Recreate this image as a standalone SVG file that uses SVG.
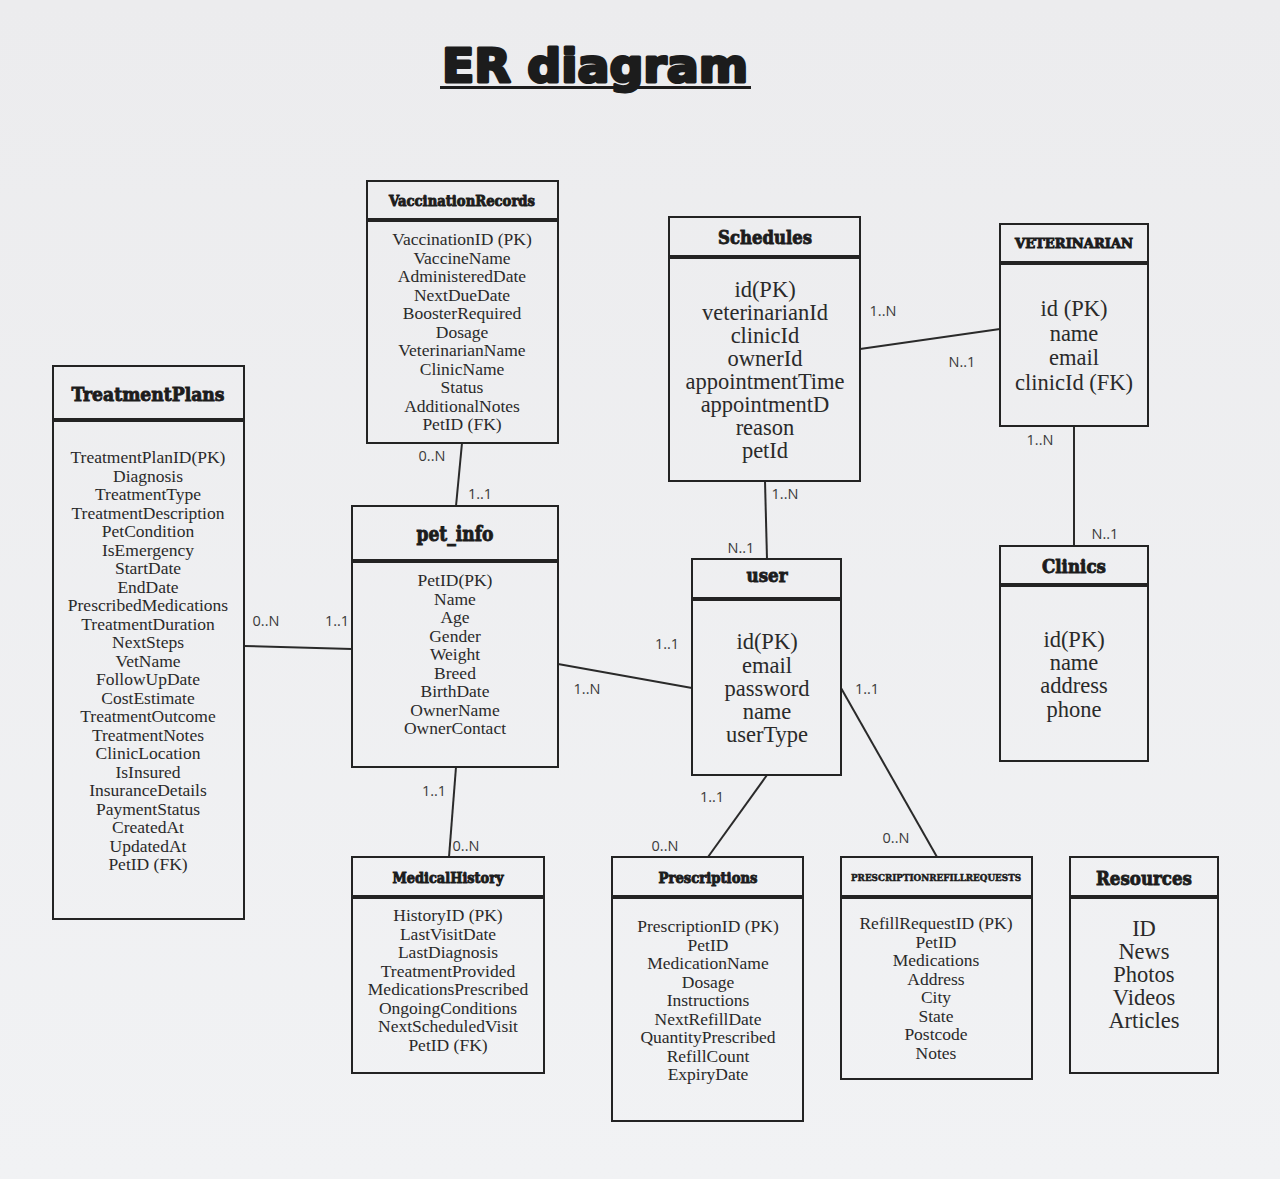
<svg xmlns="http://www.w3.org/2000/svg" width="1280" height="1179" viewBox="0 0 1280 1179">
<defs>
<style>
.box{fill:none;stroke:#232323;stroke-width:2}
.div{stroke:#232323;stroke-width:4}
.hd{font-family:"DejaVu Serif","Liberation Serif",serif;font-weight:bold;fill:#1c1c1c;text-anchor:middle;stroke:#1c1c1c;stroke-width:0.9}
.b{font-family:"Liberation Serif","Times New Roman",serif;font-size:17.5px;fill:#2a2a2a;text-anchor:middle}
.bl{font-family:"Liberation Serif","Times New Roman",serif;font-size:22.5px;fill:#2a2a2a;text-anchor:middle}
.lb{font-family:"Open Sans","DejaVu Sans",sans-serif;font-size:14.5px;fill:#3a3a3a;text-anchor:middle}
.ln{stroke:#2a2a2a;stroke-width:2;fill:none}
</style>
<linearGradient id="bg" x1="0" y1="0" x2="0" y2="1">
<stop offset="0" stop-color="#ececee"/>
<stop offset="1" stop-color="#f1f2f4"/>
</linearGradient>
</defs>
<rect x="0" y="0" width="1280" height="1179" fill="url(#bg)"/>

<g id="title">
<text x="595" y="82" font-family="'DejaVu Sans','Liberation Sans',sans-serif" font-weight="bold" font-size="47" fill="#1c1c1c" stroke="#1c1c1c" stroke-width="3" stroke-linejoin="round" text-anchor="middle" textLength="306" lengthAdjust="spacingAndGlyphs">ER diagram</text>
<line x1="440" y1="87.5" x2="751" y2="87.5" stroke="#1c1c1c" stroke-width="3"/>
</g>

<g id="connectors">
<line class="ln" x1="462" y1="443" x2="456" y2="506"/>
<line class="ln" x1="244" y1="646" x2="352" y2="649"/>
<line class="ln" x1="558" y1="664" x2="692" y2="688"/>
<line class="ln" x1="765" y1="481" x2="767" y2="559"/>
<line class="ln" x1="860" y1="349" x2="1000" y2="329"/>
<line class="ln" x1="1074" y1="426" x2="1074" y2="546"/>
<line class="ln" x1="456" y1="767" x2="449" y2="857"/>
<line class="ln" x1="767" y1="775" x2="708" y2="857"/>
<line class="ln" x1="841" y1="688" x2="937" y2="857"/>
<text class="lb" x="432" y="461">0..N</text>
<text class="lb" x="480" y="499">1..1</text>
<text class="lb" x="266" y="626">0..N</text>
<text class="lb" x="337" y="626">1..1</text>
<text class="lb" x="587" y="694">1..N</text>
<text class="lb" x="667" y="649">1..1</text>
<text class="lb" x="785" y="499">1..N</text>
<text class="lb" x="741" y="553">N..1</text>
<text class="lb" x="883" y="316">1..N</text>
<text class="lb" x="962" y="367">N..1</text>
<text class="lb" x="1040" y="445">1..N</text>
<text class="lb" x="1105" y="539">N..1</text>
<text class="lb" x="434" y="796">1..1</text>
<text class="lb" x="466" y="851">0..N</text>
<text class="lb" x="712" y="802">1..1</text>
<text class="lb" x="665" y="851">0..N</text>
<text class="lb" x="867" y="694">1..1</text>
<text class="lb" x="896" y="843">0..N</text>
</g>

<g id="VaccinationRecords">
<rect class="box" x="367" y="181" width="191" height="262"/>
<line class="div" x1="367" y1="220" x2="558" y2="220"/>
<text class="hd" x="462" y="206" font-size="14" textLength="146" lengthAdjust="spacingAndGlyphs">VaccinationRecords</text>
<text class="b" x="462" y="245">VaccinationID (PK)</text>
<text class="b" x="462" y="263.5">VaccineName</text>
<text class="b" x="462" y="282">AdministeredDate</text>
<text class="b" x="462" y="300.5">NextDueDate</text>
<text class="b" x="462" y="319">BoosterRequired</text>
<text class="b" x="462" y="337.5">Dosage</text>
<text class="b" x="462" y="356">VeterinarianName</text>
<text class="b" x="462" y="374.5">ClinicName</text>
<text class="b" x="462" y="393">Status</text>
<text class="b" x="462" y="411.5">AdditionalNotes</text>
<text class="b" x="462" y="430">PetID (FK)</text>
</g>

<g id="Schedules">
<rect class="box" x="669" y="217" width="191" height="264"/>
<line class="div" x1="669" y1="257" x2="860" y2="257"/>
<text class="hd" x="765" y="244" font-size="18" textLength="94" lengthAdjust="spacingAndGlyphs">Schedules</text>
<text class="bl" x="765" y="297">id(PK)</text>
<text class="bl" x="765" y="320">veterinarianId</text>
<text class="bl" x="765" y="343">clinicId</text>
<text class="bl" x="765" y="366">ownerId</text>
<text class="bl" x="765" y="389">appointmentTime</text>
<text class="bl" x="765" y="412">appointmentD</text>
<text class="bl" x="765" y="435">reason</text>
<text class="bl" x="765" y="458">petId</text>
</g>

<g id="VETERINARIAN">
<rect class="box" x="1000" y="224" width="148" height="202"/>
<line class="div" x1="1000" y1="263" x2="1148" y2="263"/>
<text class="hd" x="1074" y="248" font-size="13" textLength="118" lengthAdjust="spacingAndGlyphs">VETERINARIAN</text>
<text class="bl" x="1074" y="316">id (PK)</text>
<text class="bl" x="1074" y="340.5">name</text>
<text class="bl" x="1074" y="365">email</text>
<text class="bl" x="1074" y="389.5">clinicId (FK)</text>
</g>

<g id="TreatmentPlans">
<rect class="box" x="53" y="366" width="191" height="553"/>
<line class="div" x1="53" y1="420" x2="244" y2="420"/>
<text class="hd" x="148" y="401" font-size="18" textLength="153" lengthAdjust="spacingAndGlyphs">TreatmentPlans</text>
<text class="b" x="148" y="463">TreatmentPlanID(PK)</text>
<text class="b" x="148" y="481.5">Diagnosis</text>
<text class="b" x="148" y="500">TreatmentType</text>
<text class="b" x="148" y="518.5">TreatmentDescription</text>
<text class="b" x="148" y="537">PetCondition</text>
<text class="b" x="148" y="555.5">IsEmergency</text>
<text class="b" x="148" y="574">StartDate</text>
<text class="b" x="148" y="592.5">EndDate</text>
<text class="b" x="148" y="611">PrescribedMedications</text>
<text class="b" x="148" y="629.5">TreatmentDuration</text>
<text class="b" x="148" y="648">NextSteps</text>
<text class="b" x="148" y="666.5">VetName</text>
<text class="b" x="148" y="685">FollowUpDate</text>
<text class="b" x="148" y="703.5">CostEstimate</text>
<text class="b" x="148" y="722">TreatmentOutcome</text>
<text class="b" x="148" y="740.5">TreatmentNotes</text>
<text class="b" x="148" y="759">ClinicLocation</text>
<text class="b" x="148" y="777.5">IsInsured</text>
<text class="b" x="148" y="796">InsuranceDetails</text>
<text class="b" x="148" y="814.5">PaymentStatus</text>
<text class="b" x="148" y="833">CreatedAt</text>
<text class="b" x="148" y="851.5">UpdatedAt</text>
<text class="b" x="148" y="870">PetID (FK)</text>
</g>

<g id="pet_info">
<rect class="box" x="352" y="506" width="206" height="261"/>
<line class="div" x1="352" y1="561" x2="558" y2="561"/>
<text class="hd" x="455" y="541" font-size="20" textLength="77" lengthAdjust="spacingAndGlyphs">pet_info</text>
<text class="b" x="455" y="586">PetID(PK)</text>
<text class="b" x="455" y="604.5">Name</text>
<text class="b" x="455" y="623">Age</text>
<text class="b" x="455" y="641.5">Gender</text>
<text class="b" x="455" y="660">Weight</text>
<text class="b" x="455" y="678.5">Breed</text>
<text class="b" x="455" y="697">BirthDate</text>
<text class="b" x="455" y="715.5">OwnerName</text>
<text class="b" x="455" y="734">OwnerContact</text>
</g>

<g id="user">
<rect class="box" x="692" y="559" width="149" height="216"/>
<line class="div" x1="692" y1="599" x2="841" y2="599"/>
<text class="hd" x="767" y="582" font-size="18" textLength="41" lengthAdjust="spacingAndGlyphs">user</text>
<text class="bl" x="767" y="649">id(PK)</text>
<text class="bl" x="767" y="672.5">email</text>
<text class="bl" x="767" y="695.5">password</text>
<text class="bl" x="767" y="718.5">name</text>
<text class="bl" x="767" y="741.5">userType</text>
</g>

<g id="Clinics">
<rect class="box" x="1000" y="546" width="148" height="215"/>
<line class="div" x1="1000" y1="585" x2="1148" y2="585"/>
<text class="hd" x="1074" y="573" font-size="18" textLength="64" lengthAdjust="spacingAndGlyphs">Clinics</text>
<text class="bl" x="1074" y="647">id(PK)</text>
<text class="bl" x="1074" y="670">name</text>
<text class="bl" x="1074" y="693">address</text>
<text class="bl" x="1074" y="716.5">phone</text>
</g>

<g id="MedicalHistory">
<rect class="box" x="352" y="857" width="192" height="216"/>
<line class="div" x1="352" y1="897" x2="544" y2="897"/>
<text class="hd" x="448" y="883" font-size="14" textLength="111" lengthAdjust="spacingAndGlyphs">MedicalHistory</text>
<text class="b" x="448" y="921">HistoryID (PK)</text>
<text class="b" x="448" y="939.5">LastVisitDate</text>
<text class="b" x="448" y="958">LastDiagnosis</text>
<text class="b" x="448" y="976.5">TreatmentProvided</text>
<text class="b" x="448" y="995">MedicationsPrescribed</text>
<text class="b" x="448" y="1013.5">OngoingConditions</text>
<text class="b" x="448" y="1032">NextScheduledVisit</text>
<text class="b" x="448" y="1050.5">PetID (FK)</text>
</g>

<g id="Prescriptions">
<rect class="box" x="612" y="857" width="191" height="264"/>
<line class="div" x1="612" y1="897" x2="803" y2="897"/>
<text class="hd" x="708" y="883" font-size="14" textLength="99" lengthAdjust="spacingAndGlyphs">Prescriptions</text>
<text class="b" x="708" y="932">PrescriptionID (PK)</text>
<text class="b" x="708" y="950.5">PetID</text>
<text class="b" x="708" y="969">MedicationName</text>
<text class="b" x="708" y="987.5">Dosage</text>
<text class="b" x="708" y="1006">Instructions</text>
<text class="b" x="708" y="1024.5">NextRefillDate</text>
<text class="b" x="708" y="1043">QuantityPrescribed</text>
<text class="b" x="708" y="1061.5">RefillCount</text>
<text class="b" x="708" y="1080">ExpiryDate</text>
</g>

<g id="PRESCRIPTIONREFILLREQUESTS">
<rect class="box" x="841" y="857" width="191" height="222"/>
<line class="div" x1="841" y1="897" x2="1032" y2="897"/>
<text class="hd" x="936" y="881" font-size="9.5" textLength="170" lengthAdjust="spacingAndGlyphs" style="stroke-width:0.5">PRESCRIPTIONREFILLREQUESTS</text>
<text class="b" x="936" y="929">RefillRequestID (PK)</text>
<text class="b" x="936" y="947.5">PetID</text>
<text class="b" x="936" y="966">Medications</text>
<text class="b" x="936" y="984.5">Address</text>
<text class="b" x="936" y="1003">City</text>
<text class="b" x="936" y="1021.5">State</text>
<text class="b" x="936" y="1040">Postcode</text>
<text class="b" x="936" y="1058.5">Notes</text>
</g>

<g id="Resources">
<rect class="box" x="1070" y="857" width="148" height="216"/>
<line class="div" x1="1070" y1="897" x2="1218" y2="897"/>
<text class="hd" x="1144" y="885" font-size="18" textLength="96" lengthAdjust="spacingAndGlyphs">Resources</text>
<text class="bl" x="1144" y="936">ID</text>
<text class="bl" x="1144" y="959">News</text>
<text class="bl" x="1144" y="982">Photos</text>
<text class="bl" x="1144" y="1005">Videos</text>
<text class="bl" x="1144" y="1028">Articles</text>
</g>
</svg>
